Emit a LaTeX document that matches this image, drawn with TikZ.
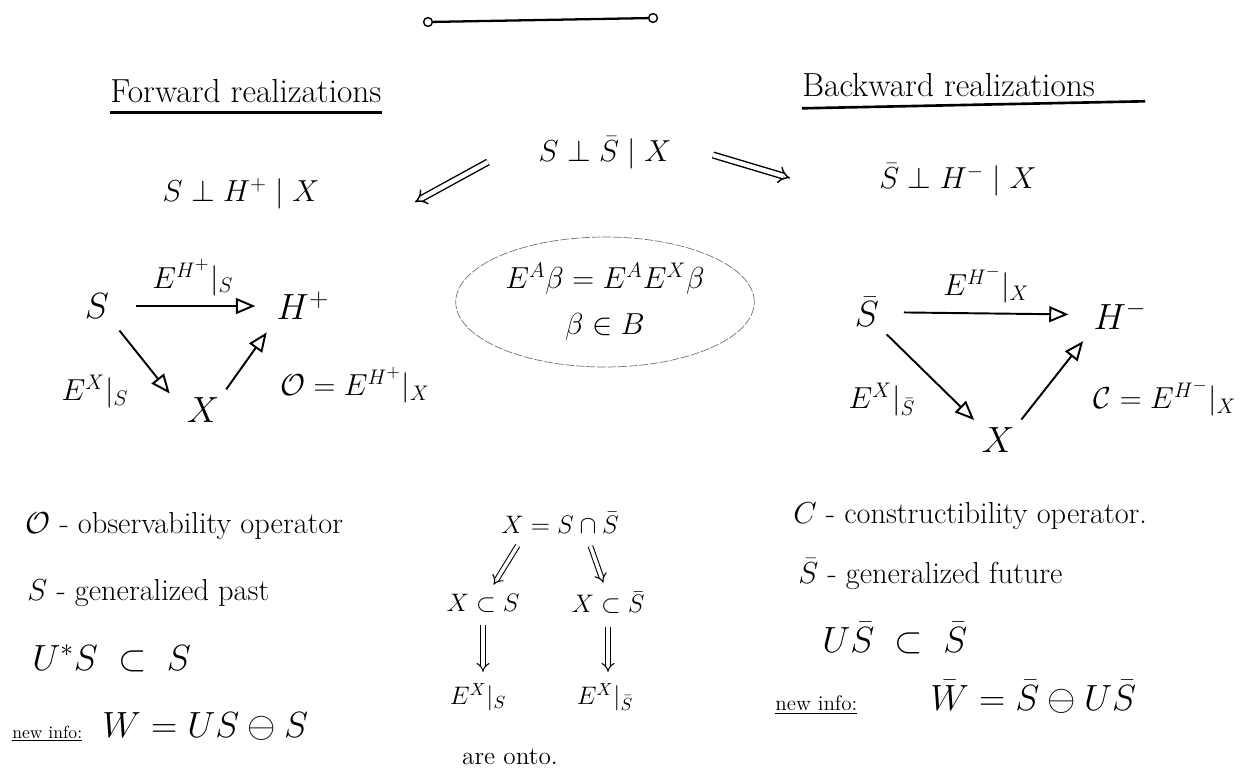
\documentclass[tikz,border=0pt]{standalone}
\usepackage{amsmath, amssymb}
\usepackage{tikz}
\usetikzlibrary{positioning, arrows.meta, shapes.geometric}
\newcommand{\Sbar}{\bar{S}}
\newcommand{\projE}[2]{E^{#1}\rvert_{#2}}

\begin{document}
\begin{tikzpicture}[
    x=0.02cm, y=-0.02cm,
    heading/.style={font=\fontsize{19}{22}\selectfont, anchor=base west, inner sep=0pt},
    note/.style={font=\LARGE, anchor=base west, inner sep=0pt},
    rel/.style={font=\LARGE},
    obj/.style={font=\huge, inner sep=2pt},
    lbl/.style={font=\LARGE},
    midlbl/.style={font=\Large},
    endpt/.style={circle, draw, thick, inner sep=0pt, minimum size=5pt},
    map/.style={-{Triangle[open, length=11pt, width=9pt]}, line width=1.1pt},
    imp/.style={double, double distance=2.5pt, -{Implies}, thick},
    minimp/.style={imp, line width=0.6pt, double distance=2pt},
    bubble/.style={
        ellipse, draw=black!55, dash pattern=on 5pt off 1pt,
        minimum width=5.3cm, minimum height=2.6cm,
        align=center, font=\LARGE
    }
]
\useasboundingbox (0,0) rectangle (1253,769);

% top rule
\node[endpt] (ruleL) at (428,22) {};
\node[endpt] (ruleR) at (653,18) {};
\draw[line width=1.3pt] (ruleL) -- (ruleR);

% headings
\node[heading] (fwdhead) at (110,102) {Forward realizations};
\node[heading] (bwdhead) at (802,96) {Backward realizations};
\draw[line width=1.5pt] ([yshift=-6pt]fwdhead.base west) -- ([yshift=-6pt]fwdhead.base east);
\draw[line width=1.5pt] ([yshift=-7pt]bwdhead.base west) -- ([xshift=1cm, yshift=-3pt]bwdhead.base east);

% conditional orthogonality
\node[rel] (ci) at (605,153) {$S\perp\Sbar\mid X$};
\node[rel] (fwdci) at (241,194) {$S\perp H^{+}\mid X$};
\node[rel] (bwdci) at (958,180) {$\Sbar\perp H^{-}\mid X$};
\coordinate (ciL) at (488,162);
\coordinate (fwdR) at (415,202);
\coordinate (ciR) at (713,155);
\coordinate (bwdL) at (790,178);
\draw[imp] (ciL) -- (fwdR);
\draw[imp] (ciR) -- (bwdL);

\node[bubble] (key) at (605,302) {$E^{A}\beta = E^{A}E^{X}\beta$\\[4pt]$\beta\in B$};

% forward triangle
\node[obj] (S) at (97,306) {$S$};
\node[obj] (Hp) at (303,306) {$H^{+}$};
\node[obj] (X) at (203,410) {$X$};
\draw[map, shorten <=13pt, shorten >=10pt] (S) -- node[above=2pt, lbl] (lblSH) {$\projE{H^{+}}{S}$} (Hp);
\draw[map, shorten <=6pt, shorten >=12pt] (S.south east) -- (X.west);
\draw[map, shorten <=3pt, shorten >=6pt] (X.north east) -- (Hp.south west);
\node[lbl] (lblSX) at (95,392) {$\projE{X}{S}$};
\node[lbl] (obs) at (355,385) {$\mathcal{O}=\projE{H^{+}}{X}$};

% backward triangle
\node[obj] (Sb) at (867,312) {$\Sbar$};
\node[obj] (Hm) at (1120,315) {$H^{-}$};
\node[obj] (Xb) at (998,440) {$X$};
\draw[map, shorten <=12pt, shorten >=12pt] (Sb) -- node[above=2pt, lbl] (lblSbH) {$\projE{H^{-}}{X}$} (Hm);
\draw[map, shorten <=3pt, shorten >=3pt] (Sb.south east) -- (Xb.north west);
\draw[map, shorten <=3pt, shorten >=6pt] (Xb.north east) -- (Hm.south west);
\node[lbl] (lblSbX) at (882,400) {$\projE{X}{\Sbar}$};
\node[lbl] (con) at (1165,398) {$\mathcal{C}=\projE{H^{-}}{X}$};

% notes, forward side
\node[note] (obsnote) at (25,533) {$\mathcal{O}$ - observability operator};
\node[note] (pastnote) at (27,600) {$S$ - generalized past};
\node[note, font=\huge] (shiftS) at (32,670) {$U^{*}S\;\subset\;S$};
\node[note, font=\normalsize] (newinfoL) at (12,738) {\underline{new info:}};
\node[note, font=\huge] (wL) at (102,737) {$W = US\ominus S$};

% middle column
\node[midlbl] (Xdef) at (560,523) {$X = S\cap\Sbar$};
\node[midlbl] (XinS) at (483,603) {$X\subset S$};
\node[midlbl] (XinSb) at (608,603) {$X\subset\Sbar$};
\node[midlbl] (EXS) at (478,697) {$\projE{X}{S}$};
\node[midlbl] (EXSb) at (605,697) {$\projE{X}{\Sbar}$};
\node[midlbl] (onto) at (510,757) {are onto.};
\draw[minimp, shorten <=4pt, shorten >=2pt] ([xshift=-22pt]Xdef.south) -- ([xshift=5pt]XinS.north);
\draw[minimp, shorten <=4pt, shorten >=2pt] ([xshift=16pt]Xdef.south) -- ([xshift=-2pt]XinSb.north);
\draw[minimp, shorten <=4pt, shorten >=3pt] (XinS.south) -- (XinS.south |- EXS.north);
\draw[minimp, shorten <=4pt, shorten >=3pt] (XinSb.south) -- (XinSb.south |- EXSb.north);

% notes, backward side
\node[note] (connote) at (793,523) {$C$ - constructibility operator.};
\node[note] (futnote) at (798,583) {$\Sbar$ - generalized future};
\node[note, font=\huge] (shiftSb) at (822,652) {$U\Sbar\;\subset\;\Sbar$};
\node[note, font=\large] (newinfoR) at (775,710) {\underline{new info:}};
\node[note, font=\huge] (wR) at (930,710) {$\bar W = \Sbar\ominus U\Sbar$};

\end{tikzpicture}
\end{document}
